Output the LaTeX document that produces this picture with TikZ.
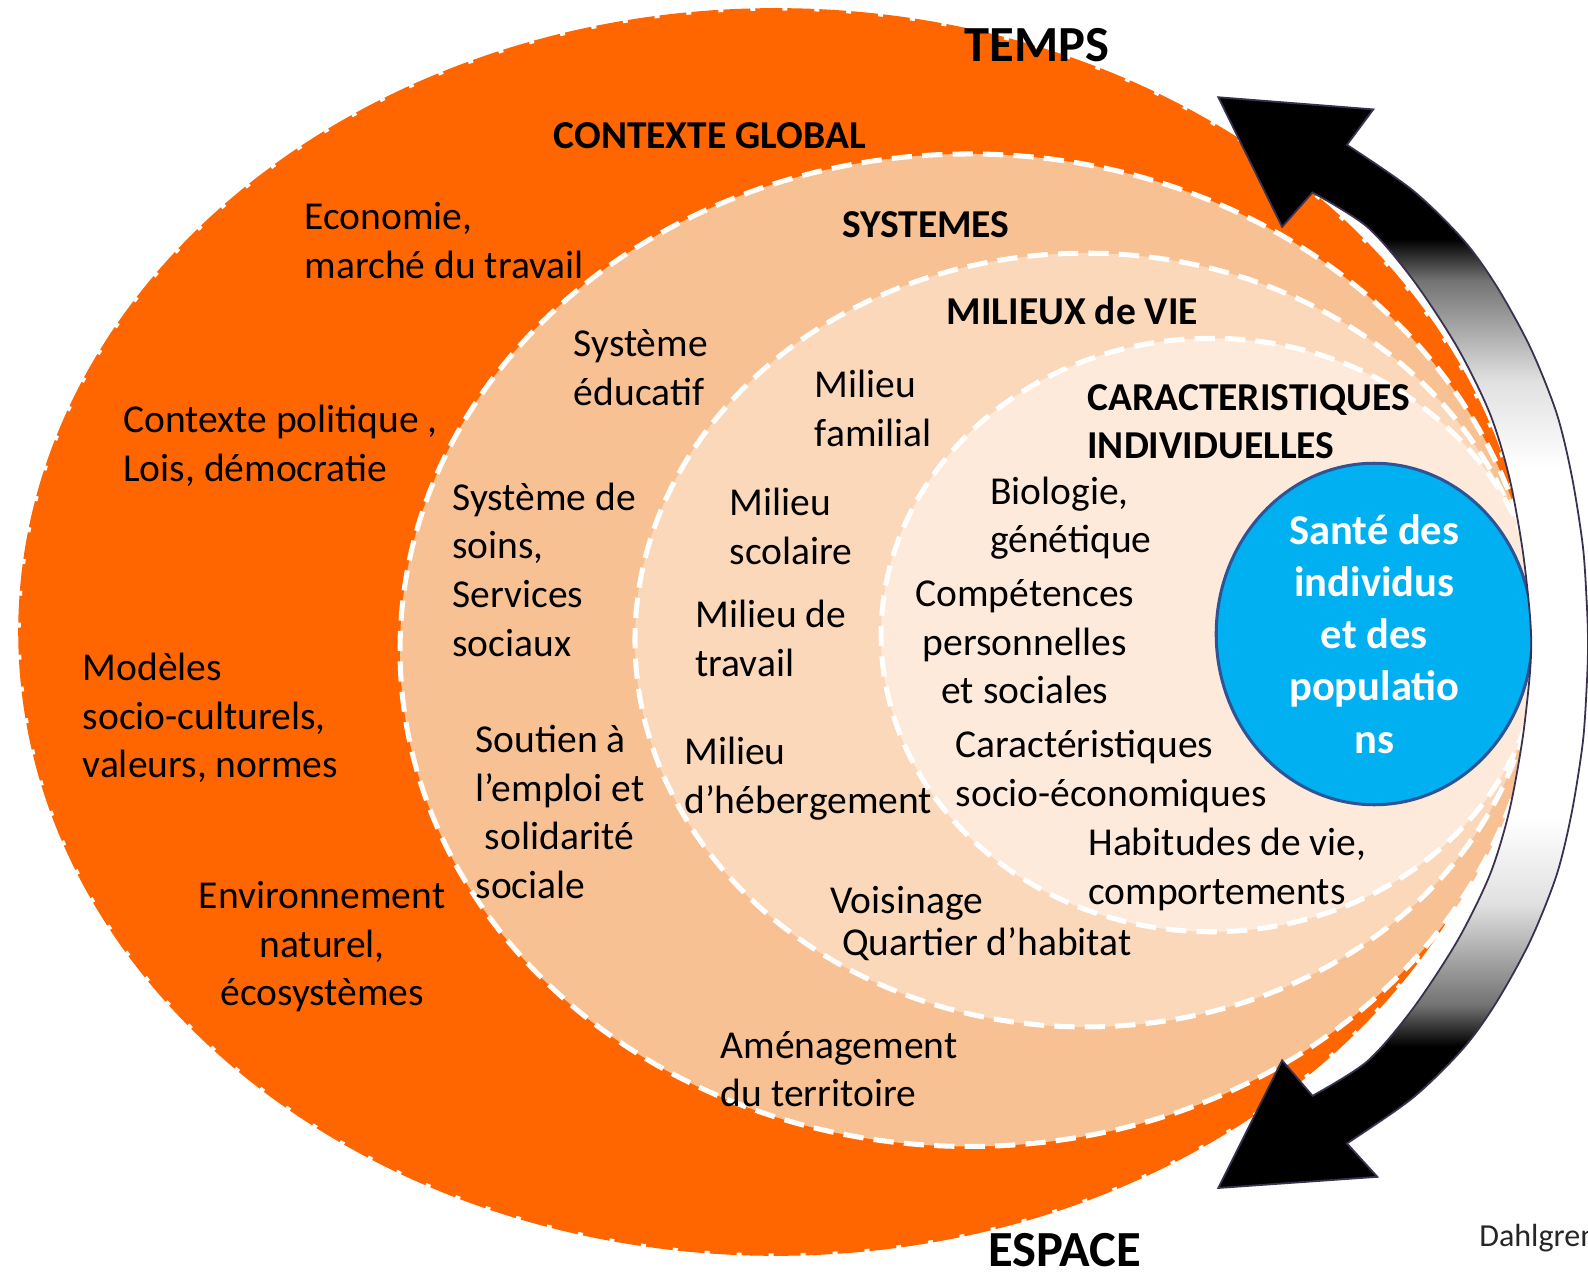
\documentclass[tikz,border=0pt]{standalone}
\usepackage{fontspec}
\setmainfont{Carlito}
\usetikzlibrary{shapes.geometric}

\definecolor{ctxorange}{HTML}{FF6600}
\definecolor{sysfill}{HTML}{F8C193}
\definecolor{milfill}{HTML}{FBD8BA}
\definecolor{indfill}{HTML}{FDEADB}
\definecolor{santeblue}{HTML}{00B0F0}
\definecolor{santeedge}{HTML}{2F5496}
\definecolor{arrowedge}{HTML}{3A3050}

% black ends, pale middle for the time/space arrow
\pgfdeclareverticalshading{timeshade}{100bp}{color(0bp)=(black); color(25bp)=(black); color(31.5bp)=(black); color(33.4bp)=(black!55); color(38bp)=(black!12); color(42bp)=(white); color(58bp)=(white); color(62bp)=(black!12); color(66.6bp)=(black!55); color(68.5bp)=(black); color(100bp)=(black)}

\begin{document}
\begin{tikzpicture}[
    x=0.01cm, y=-0.01cm,
    zone/.style={draw=white, line width=1.42pt, dash pattern=on 5.7pt off 2.85pt},
    txt/.style={font=\fontsize{11.1}{13.66}\selectfont, align=left, anchor=base west, inner sep=0pt},
    head/.style={txt, font=\bfseries\fontsize{11.1}{13.66}\selectfont},
    big/.style={txt, font=\bfseries\fontsize{14.2}{17}\selectfont}
]
    \useasboundingbox[fill=white] (0,0) rectangle (1568,1259);

    % Nested zones
    \fill[ctxorange] (766,624) ellipse [x radius=748, y radius=616];
    \draw[white, line width=1.4pt, dash pattern=on 1.4pt off 7.6pt] (766,624) ellipse [x radius=748, y radius=616];
    \fill[sysfill] (957,642) ellipse [x radius=562, y radius=490];
    \draw[zone] (957,642) ellipse [x radius=562, y radius=490];
    \fill[milfill] (1072,632) ellipse [x radius=445, y radius=382];
    \draw[zone] (1072,632) ellipse [x radius=445, y radius=382];
    \fill[indfill] (1196,627) ellipse [x radius=326, y radius=293];
    \draw[zone] (1196,627) ellipse [x radius=326, y radius=293];

    % Health at the core
    \node[ellipse, draw=santeedge, line width=0.85pt, fill=santeblue, minimum width=3.12cm, minimum height=3.37cm, inner sep=0pt, align=center, text=white, font=\bfseries\fontsize{11.95}{14.65}\selectfont] (sante) at (1357,626) {Santé des\\individus\\et des\\populatio\\ns};

    % Time / space arrow
    \shadedraw[shading=timeshade, draw=arrowedge, line width=0.5pt]
        plot[smooth] coordinates {(1330,143) (1395,188) (1445,237) (1478,283) (1511,343) (1537,408) (1552,470) (1563,540) (1567,600) (1568,636) (1567,672) (1563,732) (1552,802) (1537,864) (1511,929) (1478,989) (1445,1035) (1395,1084) (1330,1129)}
        -- (1360,1162) -- (1203,1173) -- (1266,1047)
        -- plot[smooth] coordinates {(1296,1082) (1350,1048) (1395,996) (1439,929) (1471,864) (1490,802) (1503,732) (1510,672) (1512,636) (1510,600) (1503,540) (1490,470) (1471,408) (1439,343) (1395,276) (1350,224) (1296,190)}
        -- (1266,224) -- (1203,96) -- (1356,108) -- cycle;

    % Headings
    \node[big] (temps) at (952,61) {TEMPS};
    \node[big] (espace) at (975,1251) {ESPACE};
    \node[head] (contexte) at (546,147) {CONTEXTE GLOBAL};
    \node[head] (systemes) at (831,234) {SYSTEMES};
    \node[head] (milieux) at (934,320) {MILIEUX de VIE};
    \node[head] (indiv) at (1073,453) {CARACTERISTIQUES\\INDIVIDUELLES};

    % Global context
    \node[txt] (eco) at (300,275) {Economie,\\marché du travail};
    \node[txt] (politique) at (121,475) {Contexte politique ,\\Lois, démocratie};
    \node[txt] (modeles) at (81,768) {Modèles\\socio-culturels,\\valeurs, normes};
    \node[txt, align=center, anchor=base] (environ) at (318,993) {Environnement\\naturel,\\écosystèmes};

    % Systems
    \node[txt] (educatif) at (566,400) {Système\\éducatif};
    \node[txt] (soins) at (446,648) {Système de\\soins,\\Services\\sociaux};
    \node[txt] (soutien) at (469,887) {Soutien à\\l’emploi et\\\hspace*{2.6pt}solidarité\\sociale};
    \node[txt] (amenag) at (711,1093) {Aménagement\\du territoire};

    % Living settings
    \node[txt] (familial) at (804,441) {Milieu\\familial};
    \node[txt] (scolaire) at (720,557) {Milieu\\scolaire};
    \node[txt] (travail) at (686,668) {Milieu de\\travail};
    \node[txt] (heberg) at (675,803) {Milieu\\d’hébergement};
    \node[txt] (voisinage) at (819,943) {Voisinage\\[-2pt]\hspace*{3.4pt}Quartier d’habitat};

    % Individual characteristics
    \node[txt] (bio) at (977,546) {Biologie,\\génétique};
    \node[txt, align=center, anchor=base] (compet) at (1012,695) {Compétences\\personnelles\\et sociales};
    \node[txt] (socioeco) at (943,796) {Caractéristiques\\socio-économiques};
    \node[txt] (habitudes) at (1074,893) {Habitudes de vie,\\comportements};

    \node[txt, font=\fontsize{9}{11}\selectfont, text=black!85] (source) at (1460,1231) {Dahlgren};
\end{tikzpicture}
\end{document}
